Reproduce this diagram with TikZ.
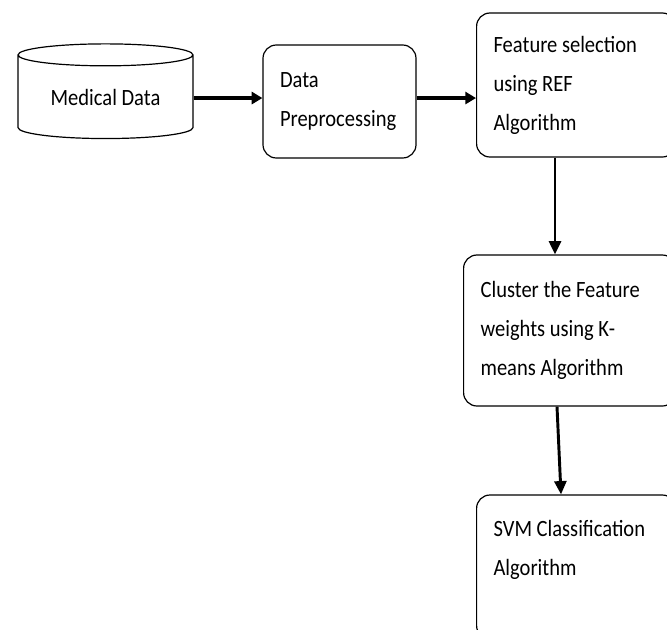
\documentclass[tikz,border=0pt]{standalone}
\usepackage{fontspec}
\newfontfamily\boxfont{Carlito}[FakeStretch=0.88]
\usetikzlibrary{shapes.geometric,arrows.meta}
\tikzstyle{procbox}=[draw,rounded corners=10pt,line width=0.9pt,align=flush left,inner xsep=12.75pt,inner ysep=0pt,font={\boxfont\fontsize{17.5pt}{29.25pt}\selectfont}]
\tikzstyle{database}=[draw,cylinder,shape border rotate=90,aspect=0.2,line width=0.9pt,inner sep=0pt,font={\boxfont\fontsize{17.5pt}{29.25pt}\selectfont}]
\tikzstyle{flow}=[draw,line width=2.6pt,-{Triangle[length=8pt,width=9pt]}]
\tikzstyle{flowdown}=[draw,line width=2.2pt,-{Triangle[length=10pt,width=9pt]}]

\begin{document}
\begin{tikzpicture}[x=0.75pt,y=-0.75pt]
    \clip (0,0) rectangle (667,629);

    % stages of the pipeline
    \node[database,minimum width=131.25pt,minimum height=71pt] (meddata) at (105.5,97) {Medical Data};
    \node[procbox,text width=89.25pt,minimum height=84.75pt] (prep) at (339.5,101.5) {Data\\Preprocessing};
    \node[procbox,anchor=west,text width=123.75pt,minimum height=108pt] (feat) at (476,85) {Feature selection\\using REF\\Algorithm};
    \node[procbox,anchor=west,text width=133.5pt,minimum height=113.25pt] (clus) at (463,330.5) {Cluster the Feature\\weights using K-\\means Algorithm};
    \node[procbox,anchor=west,text width=123.75pt,minimum height=108pt] (svm) at (476,567) {SVM Classification\\Algorithm\\\mbox{}};

    % arrows between stages
    \coordinate (prepin) at ([yshift=2.6pt]prep.west);
    \coordinate (featout) at ([xshift=59.25pt]feat.south west);
    \path[flow] (prepin -| meddata.east) -- (prepin);
    \path[flow] (prep.east |- prepin) -- (prepin -| feat.west);
    \path[flowdown] (featout) -- (featout |- clus.north);
    \path[flowdown] ([xshift=70.5pt]clus.south west) -- ([xshift=63.75pt]svm.north west);
\end{tikzpicture}
\end{document}
